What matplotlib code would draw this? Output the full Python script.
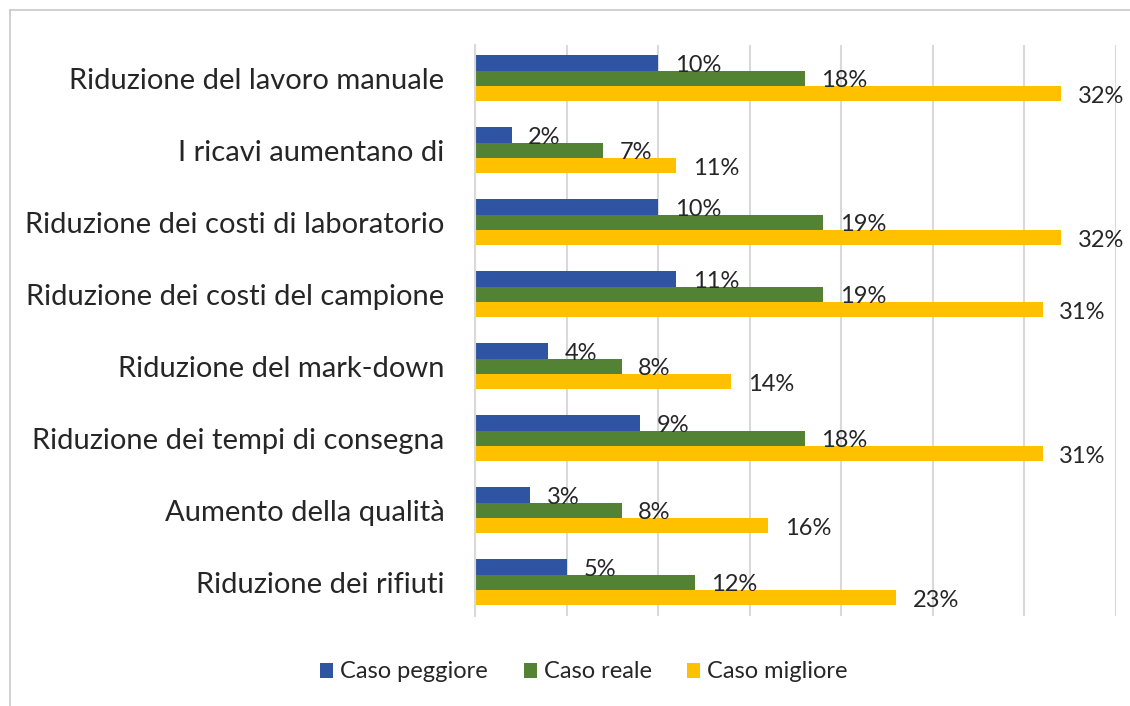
import matplotlib
matplotlib.use("Agg")
import matplotlib.pyplot as plt
from matplotlib.lines import Line2D
from matplotlib.patches import Patch
import numpy as np

categories = [
    "Riduzione del lavoro manuale",
    "I ricavi aumentano di",
    "Riduzione dei costi di laboratorio",
    "Riduzione dei costi del campione",
    "Riduzione del mark-down",
    "Riduzione dei tempi di consegna",
    "Aumento della qualità",
    "Riduzione dei rifiuti",
]
caso_peggiore = [10, 2, 10, 11, 4, 9, 3, 5]
caso_reale = [18, 7, 19, 19, 8, 18, 8, 12]
caso_migliore = [32, 11, 32, 31, 14, 31, 16, 23]
series_names = ["Caso peggiore", "Caso reale", "Caso migliore"]
colors = ["#2F55A2", "#548235", "#FFC000"]

plt.rcParams["font.family"] = ["Lato", "DejaVu Sans"]

W, H = 1130, 706
fig = plt.figure(figsize=(W / 100, H / 100), dpi=100)
ax = fig.add_axes([475 / W, 1 - 616 / H, (1116 - 475) / W, (616 - 45) / H])

y = np.arange(len(categories))
bh = 0.21
for i, (vals, name, col) in enumerate(zip([caso_peggiore, caso_reale, caso_migliore], series_names, colors)):
    pos = y + (i - 1) * bh
    ax.barh(pos, vals, height=bh, color=col, label=name, zorder=2)
    for p, v in zip(pos, vals):
        ax.annotate(f"{v}%", xy=(v, p), xytext=(12, -2), textcoords="offset points",
                    ha="left", va="center", fontsize=17, color="#262626", zorder=3)

ax.set_xlim(0, 35)
ax.set_ylim(len(categories) - 1 + 0.47, -0.46)
ax.set_xticks(np.arange(0, 36, 5))
ax.set_xticklabels([])
ax.tick_params(axis="x", length=0)
ax.tick_params(axis="y", length=0, pad=22, labelsize=21, labelcolor="#262626")
ax.set_yticks(y)
ax.set_yticklabels(categories)
ax.grid(axis="x", color="#D9D9D9", linewidth=1.5, zorder=0)
for s in ["top", "right", "bottom"]:
    ax.spines[s].set_visible(False)
ax.spines["left"].set_color("#D9D9D9")
ax.spines["left"].set_linewidth(1.5)

handles = [Patch(facecolor=c, label=n) for c, n in zip(colors, series_names)]
fig.legend(handles=handles, loc="center", bbox_to_anchor=(584 / W, 1 - 672 / H), ncol=3,
           frameon=False, fontsize=17, handlelength=0.55, handleheight=0.6,
           handletextpad=0.3, columnspacing=1.5, labelcolor="#262626")

fig.add_artist(Line2D([10 / W, 1], [1 - 10 / H, 1 - 10 / H], transform=fig.transFigure,
                      color="#C8C8C8", linewidth=1.2))
fig.add_artist(Line2D([10 / W, 10 / W], [0, 1 - 10 / H], transform=fig.transFigure,
                      color="#C8C8C8", linewidth=1.2))

fig.savefig("out.png", dpi=100)
